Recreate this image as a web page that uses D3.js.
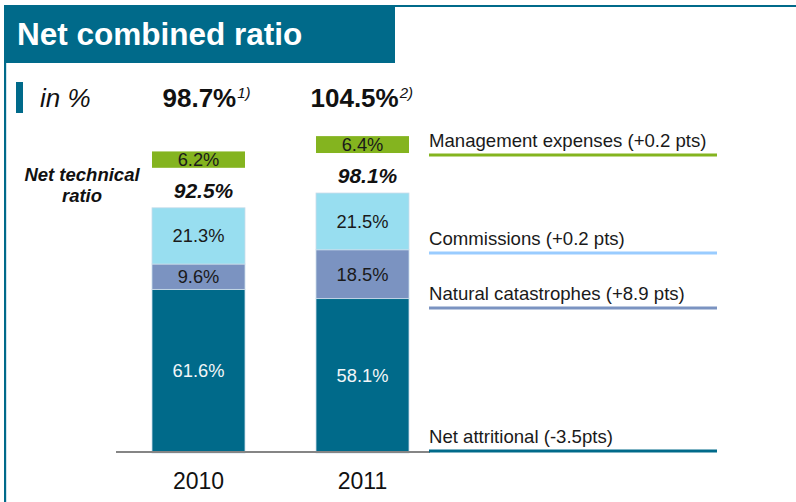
<!DOCTYPE html>
<html>
<head>
<meta charset="utf-8">
<script src="https://cdn.jsdelivr.net/npm/d3@7"></script>
<style>
  html, body { margin: 0; padding: 0; background: #fff; }
  svg { display: block; font-family: "Liberation Sans", Arial, sans-serif; }
</style>
</head>
<body>
<div id="chart"></div>
<script>
// --- Net combined ratio :: stacked bars -------------------------------------

const years = ['2010', '2011'];
const segKeys = ['attritional', 'natcat', 'commissions'];
const attritional = [61.6, 58.1];
const natcat = [9.6, 18.5];
const commissions = [21.3, 21.5];
const mgmtExpenses = [6.2, 6.4];
const technicalRatio = [92.5, 98.1];
const combinedRatio = ['98.7%', '104.5%'];
const footnotes = ['1)', '2)'];

const legendLabels = [
  'Management expenses (+0.2 pts)',
  'Commissions (+0.2 pts)',
  'Natural catastrophes (+8.9 pts)',
  'Net attritional (-3.5pts)',
];

const COLORS = {
  teal: '#006a8a',
  attritional: '#006a8a',
  natcat: '#7b93c1',
  commissions: '#98def0',
  mgmt: '#84b41f',
};
const LEGEND_COLORS = ['#84b41f', '#99ccff', '#7b93c1', '#006a8a'];

const W = 796, H = 502;
const svg = d3.select('#chart').append('svg')
  .attr('width', W).attr('height', H)
  .attr('viewBox', `0 0 ${W} ${H}`);

// --- frame + title ---
svg.append('rect').attr('x', 4).attr('y', 5).attr('width', W - 4).attr('height', 2).attr('fill', COLORS.teal);
svg.append('rect').attr('x', 4).attr('y', 5).attr('width', 2).attr('height', H - 5).attr('fill', COLORS.teal);
svg.append('rect').attr('x', 6).attr('y', 5).attr('width', 1).attr('height', H - 5).attr('fill', '#cfe3ee');
svg.append('rect').attr('x', 4).attr('y', 5).attr('width', 391).attr('height', 58).attr('fill', COLORS.teal);
svg.append('text')
  .attr('x', 17).attr('y', 45)
  .attr('fill', '#fff').attr('font-size', 31.5).attr('font-weight', 'bold')
  .text('Net combined ratio');

// "in %" marker
svg.append('rect').attr('x', 16).attr('y', 82).attr('width', 7).attr('height', 31).attr('fill', COLORS.teal);
svg.append('text')
  .attr('x', 40).attr('y', 107)
  .attr('font-size', 26).attr('font-style', 'italic').attr('fill', '#111')
  .text('in %');

// --- scales ---
const BASE = 452;
const x = d3.scaleBand().domain(years).range([152, 409]).paddingInner(0.433).paddingOuter(0);
const y = d3.scaleLinear().domain([0, 100]).range([BASE, BASE - 264]);
const cx = yr => x(yr) + x.bandwidth() / 2;

const rows = years.map((yr, i) => ({
  year: yr,
  attritional: attritional[i],
  natcat: natcat[i],
  commissions: commissions[i],
}));
const stacked = d3.stack().keys(segKeys)(rows);

// --- stacked segments ---
const segG = svg.append('g');
stacked.forEach(layer => {
  segG.selectAll(null)
    .data(layer)
    .join('rect')
      .attr('x', d => x(d.data.year))
      .attr('y', d => y(d[1]))
      .attr('width', x.bandwidth())
      .attr('height', d => y(d[0]) - y(d[1]) + (layer.key === 'attritional' ? 1 : 0))
      .attr('fill', COLORS[layer.key])
      .attr('stroke', '#c9dcea')
      .attr('stroke-width', 0.8);

  segG.selectAll(null)
    .data(layer)
    .join('text')
      .attr('x', d => cx(d.data.year))
      .attr('y', d => (y(d[0]) + y(d[1])) / 2 + 6.5)
      .attr('text-anchor', 'middle')
      .attr('font-size', 18.3)
      .attr('fill', layer.key === 'attritional' ? '#f2f6f8' : '#1a1a1a')
      .text(d => d.data[layer.key].toFixed(1) + '%');
});

// baseline
svg.append('line')
  .attr('x1', 116).attr('x2', 430)
  .attr('y1', BASE).attr('y2', BASE)
  .attr('stroke', '#858585').attr('stroke-width', 2);

// --- management expenses bars, floating above the technical ratio ---
const GAP = 40;
const mgmtBottom = i => y(technicalRatio[i]) - GAP;
const mgmtH = v => y(0) - y(v);
svg.selectAll('rect.mgmt')
  .data(mgmtExpenses)
  .join('rect')
    .attr('class', 'mgmt')
    .attr('x', (_, i) => x(years[i]))
    .attr('y', (d, i) => mgmtBottom(i) - mgmtH(d))
    .attr('width', x.bandwidth())
    .attr('height', d => mgmtH(d))
    .attr('fill', COLORS.mgmt);
svg.selectAll('text.mgmt')
  .data(mgmtExpenses)
  .join('text')
    .attr('class', 'mgmt')
    .attr('x', (_, i) => cx(years[i]))
    .attr('y', (d, i) => mgmtBottom(i) - mgmtH(d) / 2 + 6.5)
    .attr('text-anchor', 'middle')
    .attr('font-size', 18.3).attr('fill', '#1a1a1a')
    .text(d => d.toFixed(1) + '%');

// net technical ratio values
svg.selectAll('text.tech')
  .data(technicalRatio)
  .join('text')
    .attr('class', 'tech')
    .attr('x', (_, i) => cx(years[i]) + 5)
    .attr('y', d => y(d) - 10)
    .attr('text-anchor', 'middle')
    .attr('font-size', 21).attr('font-weight', 'bold').attr('font-style', 'italic')
    .attr('fill', '#111')
    .text(d => d.toFixed(1) + '%');

const techLbl = svg.append('text')
  .attr('text-anchor', 'middle')
  .attr('font-size', 18.5).attr('font-weight', 'bold').attr('font-style', 'italic')
  .attr('fill', '#111');
techLbl.append('tspan').attr('x', 82).attr('y', 181).text('Net technical');
techLbl.append('tspan').attr('x', 82).attr('y', 202).text('ratio');

// header: net combined ratio per year
const headerDx = [-36, -52];
combinedRatio.forEach((v, i) => {
  const t = svg.append('text')
    .attr('x', cx(years[i]) + headerDx[i]).attr('y', 107)
    .attr('fill', '#111');
  t.append('tspan').attr('font-size', 26).attr('font-weight', 'bold').text(v);
  t.append('tspan').attr('font-size', 15).attr('font-style', 'italic')
    .attr('dy', -9).attr('dx', 1).text(footnotes[i]);
});

// year labels
svg.selectAll('text.year')
  .data(years)
  .join('text')
    .attr('class', 'year')
    .attr('x', d => cx(d))
    .attr('y', 489)
    .attr('text-anchor', 'middle')
    .attr('font-size', 23).attr('fill', '#111')
    .text(d => d);

// --- legend on the right ---
const legendLineY = [155, 253, 308, 451];
const lg = svg.append('g').attr('transform', 'translate(429,0)');
legendLabels.forEach((lab, i) => {
  lg.append('text')
    .attr('x', 0).attr('y', legendLineY[i] - 8)
    .attr('font-size', 18.6).attr('fill', '#1a1a1a')
    .text(lab);
  lg.append('line')
    .attr('x1', 0).attr('x2', 288)
    .attr('y1', legendLineY[i]).attr('y2', legendLineY[i])
    .attr('stroke', LEGEND_COLORS[i]).attr('stroke-width', 3);
});
</script>
</body>
</html>
